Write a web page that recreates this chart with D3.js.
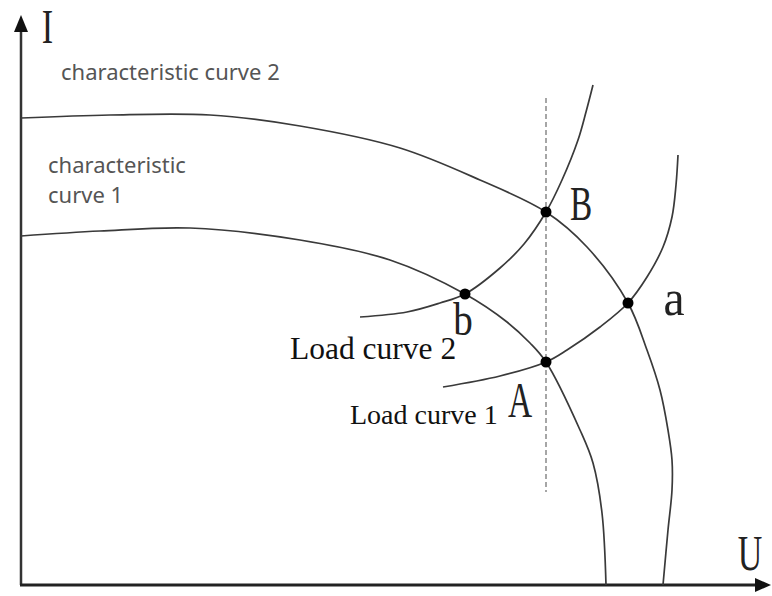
<!DOCTYPE html>
<html>
<head>
<meta charset="utf-8">
<script src="https://cdn.jsdelivr.net/npm/d3@7"></script>
<style>
  html, body { margin: 0; padding: 0; background: #fff; }
  svg { display: block; }
</style>
</head>
<body>
<div id="chart"></div>
<script>
// U-I characteristic / load curves (values in arbitrary units)
const charCurve2 = [
  [0, 9.34], [1.78, 9.40], [3.78, 9.40], [5.58, 9.18], [7.58, 8.74], [9.18, 8.10],
  [10.50, 7.46], [11.32, 6.76], [12.14, 5.64], [12.52, 4.70], [12.78, 3.90],
  [12.94, 3.10], [13.02, 2.50], [13.02, 1.90], [12.94, 1.10], [12.84, 0]
];
const charCurve1 = [
  [0, 6.98], [1.58, 7.08], [3.38, 7.14], [5.58, 6.90], [7.38, 6.50], [8.88, 5.82],
  [9.72, 5.26], [10.18, 4.84], [10.50, 4.46], [11.18, 3.10], [11.44, 2.44], [11.62, 1.44], [11.70, 0]
];
const loadCurve1 = [
  [8.44, 3.96], [9.58, 4.18], [10.50, 4.46], [10.92, 4.70], [11.58, 5.16], [12.14, 5.64],
  [12.52, 6.16], [12.84, 6.76], [13.02, 7.36], [13.10, 8.00], [13.14, 8.60]
];
const loadCurve2 = [
  [6.78, 5.36], [7.72, 5.46], [8.38, 5.64], [8.88, 5.82], [9.58, 6.34], [10.06, 6.82],
  [10.50, 7.46], [10.82, 8.10], [11.14, 8.90], [11.30, 9.46], [11.44, 10.00]
];
const guideU = 10.5;
const guideRange = [1.86, 9.74];

const pointNames = ["B", "a", "b", "A"];
const pointU = [10.50, 12.14, 8.88, 10.50];
const pointI = [7.46, 5.64, 5.82, 4.46];

const W = 772, H = 596;
const x = d3.scaleLinear().domain([0, 15]).range([21, 771]);
const y = d3.scaleLinear().domain([0, 11.4]).range([585, 15]);

const svg = d3.select("#chart").append("svg")
  .attr("width", W).attr("height", H);

// axes with arrow heads
svg.append("line")
  .attr("x1", x(0)).attr("x2", x(0))
  .attr("y1", y(0)).attr("y2", y(11.4) + 14)
  .attr("stroke", "#333").attr("stroke-width", 2.5);
svg.append("path")
  .attr("d", `M${x(0)},${y(11.4)} L${x(0) - 7},${y(11.4) + 17} L${x(0) + 7},${y(11.4) + 17} Z`)
  .attr("fill", "#111");
svg.append("line")
  .attr("x1", x(0) - 1).attr("x2", x(15) - 14)
  .attr("y1", y(0)).attr("y2", y(0))
  .attr("stroke", "#222").attr("stroke-width", 3);
svg.append("path")
  .attr("d", `M${x(15)},${y(0)} L${x(15) - 16},${y(0) - 7} L${x(15) - 16},${y(0) + 7} Z`)
  .attr("fill", "#111");

// curves
const line = d3.line()
  .x(d => x(d[0]))
  .y(d => y(d[1]))
  .curve(d3.curveCatmullRom.alpha(0.5));

[charCurve2, charCurve1, loadCurve1, loadCurve2].forEach(c => {
  svg.append("path")
    .attr("d", line(c))
    .attr("fill", "none")
    .attr("stroke", "#3a3a3a")
    .attr("stroke-width", 1.7);
});

// dashed guide
svg.append("line")
  .attr("x1", x(guideU)).attr("x2", x(guideU))
  .attr("y1", y(guideRange[1])).attr("y2", y(guideRange[0]))
  .attr("stroke", "#777")
  .attr("stroke-width", 1.3)
  .attr("stroke-dasharray", "5,3");

// intersection dots
svg.selectAll("circle.pt")
  .data(pointNames)
  .join("circle")
    .attr("class", "pt")
    .attr("cx", (_, i) => x(pointU[i]))
    .attr("cy", (_, i) => y(pointI[i]))
    .attr("r", 5.5)
    .attr("fill", "#000");

// serif letter labels (narrow glyphs)
const letter = (txt, cx, cy, fs, sx) => {
  svg.append("text")
    .attr("transform", `translate(${cx},${cy}) scale(${sx},1)`)
    .attr("text-anchor", "middle")
    .attr("font-family", "'Liberation Serif', 'DejaVu Serif', serif")
    .attr("font-size", fs)
    .attr("fill", "#222")
    .text(txt);
};
letter("I", 47.5, 43, 49, 0.7);
letter("U", 750, 570, 50, 0.68);
letter("B", 581, 220, 49, 0.68);
letter("A", 520, 417, 50, 0.67);
letter("b", 463, 335, 46, 0.85);
letter("a", 674, 315, 50, 0.95);

// sans labels for characteristic curves
const sans = "'Noto Sans', 'Open Sans', sans-serif";
svg.append("text")
  .attr("x", 61).attr("y", 80)
  .attr("font-family", sans).attr("font-size", 22).attr("fill", "#555")
  .text("characteristic curve 2");
svg.append("text")
  .attr("x", 48).attr("y", 173)
  .attr("font-family", sans).attr("font-size", 22).attr("fill", "#555")
  .text("characteristic");
svg.append("text")
  .attr("x", 48).attr("y", 203)
  .attr("font-family", sans).attr("font-size", 22).attr("fill", "#555")
  .text("curve 1");

// serif labels for load curves
const serif = "'Liberation Serif', 'DejaVu Serif', serif";
svg.append("text")
  .attr("x", 290).attr("y", 359)
  .attr("font-family", serif).attr("font-size", 31.5).attr("fill", "#111")
  .text("Load curve 2");
svg.append("text")
  .attr("x", 350).attr("y", 424)
  .attr("font-family", serif).attr("font-size", 28).attr("fill", "#111")
  .text("Load curve 1");
</script>
</body>
</html>
